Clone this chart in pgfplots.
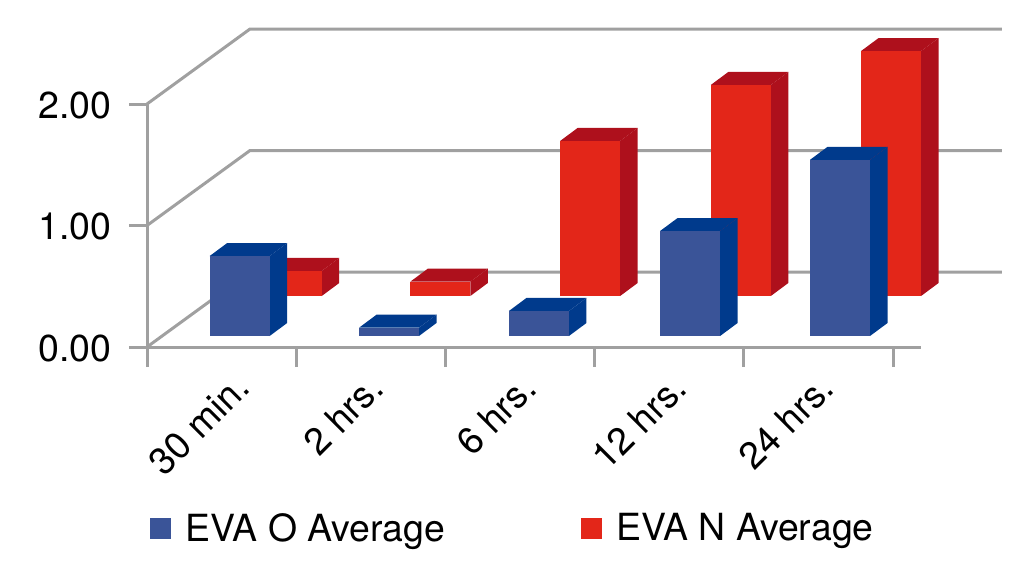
\documentclass[border=0pt]{standalone}
\usepackage{pgfplots}
\pgfplotsset{compat=1.18}
\usepackage{fontspec}
\setmainfont{TeX Gyre Heros}
\definecolor{bluef}{HTML}{3A5498}
\definecolor{blues}{HTML}{003A8C}
\definecolor{redf}{HTML}{E32619}
\definecolor{reds}{HTML}{AE101C}
\definecolor{wall}{HTML}{A0A0A0}
% one 3-D bar: centre x, value, front colour, shade colour
\newcommand{\threedbar}[4]{%
  \pgfmathsetmacro\xl{#1-0.2011}%
  \pgfmathsetmacro\xr{#1+0.2011}%
  \pgfmathsetmacro\xlb{#1-0.2011+0.1173}%
  \pgfmathsetmacro\xrb{#1+0.2011+0.1173}%
  \pgfmathsetmacro\yb{0.107}%
  \pgfmathsetmacro\yt{#2+0.107}%
  \addplot[fill=#4,draw=none,forget plot] coordinates {(\xr,0) (\xrb,\yb) (\xrb,\yt) (\xr,#2) (\xr,0)};
  \addplot[fill=#4,draw=none,forget plot] coordinates {(\xl,#2) (\xlb,\yt) (\xrb,\yt) (\xr,#2) (\xl,#2)};
  \addplot[ybar,bar width=60pt,fill=#3,draw=none,forget plot] coordinates {(#1,#2)};
}
\pgfplotsset{
  common/.style={
    anchor=origin, scale only axis, width=774pt, height=243pt,
    xmin=0, xmax=5.1877, ymin=0, ymax=2, clip=false,
  }
}
\begin{document}
\begin{tikzpicture}[x=1pt,y=1pt]
\path[use as bounding box] (0,0) rectangle (1025,579);
% walls, axes, labels, legend
\begin{axis}[common, at={(147pt,232pt)},
  axis x line*=bottom, axis y line*=left,
  axis line style={draw=wall,line width=3pt},
  xtick={0.614,1.507,2.533,3.54,4.527},
  xticklabels={30 min.,2 hrs.,6 hrs.,12 hrs.,24 hrs.},
  minor xtick={0,1,2,3,4,5},
  major x tick style={draw=none},
  minor x tick style={draw=wall,line width=3pt},
  ytick={0,1,2},
  yticklabels={0.00,1.00,2.00},
  y tick style={draw=wall,line width=3pt},
  tick align=outside,
  major tick length=18pt,
  minor tick length=20pt,
  tick label style={font=\fontsize{37.5pt}{40pt}\selectfont,text=black},
  x tick label style={rotate=45,anchor=north east,xshift=-5pt,yshift=3pt},
  y tick label style={xshift=-14pt,yshift=-1pt},
  legend style={at={(0pt,-181pt)},anchor=west,draw=none,fill=none,
    font=\fontsize{37.4pt}{40pt}\selectfont,
    /tikz/every odd column/.append style={column sep=13pt},
    /tikz/every even column/.append style={column sep=134pt}},
  legend columns=2,
  legend cell align=left,
]
\addplot[wall,line width=3pt,forget plot] coordinates {(0,0) (0.690,0.617) (5.73,0.617)};
\addplot[wall,line width=3pt,forget plot] coordinates {(0,1) (0.690,1.617) (5.73,1.617)};
\addplot[wall,line width=3pt,forget plot] coordinates {(0,2) (0.690,2.617) (5.73,2.617)};
\addlegendimage{legend image code/.code={\fill[bluef] (0pt,-10pt) rectangle (20pt,10pt);}}
\addlegendentry{EVA O Average}
\addlegendimage{legend image code/.code={\fill[redf] (0pt,-10pt) rectangle (20pt,10pt);}}
\addlegendentry{EVA N Average}
\end{axis}
% EVA N Average, standing further back
\begin{axis}[common, at={(147pt,283pt)}, hide axis]
\threedbar{0.970}{0.206}{redf}{reds}
\threedbar{1.966}{0.118}{redf}{reds}
\threedbar{2.970}{1.276}{redf}{reds}
\threedbar{3.980}{1.737}{redf}{reds}
\threedbar{4.987}{2.016}{redf}{reds}
\end{axis}
% EVA O Average, in front
\begin{axis}[common, at={(147pt,243pt)}, hide axis]
\threedbar{0.621}{0.658}{bluef}{blues}
\threedbar{1.622}{0.068}{bluef}{blues}
\threedbar{2.627}{0.206}{bluef}{blues}
\threedbar{3.640}{0.864}{bluef}{blues}
\threedbar{4.645}{1.450}{bluef}{blues}
\end{axis}
\end{tikzpicture}
\end{document}
